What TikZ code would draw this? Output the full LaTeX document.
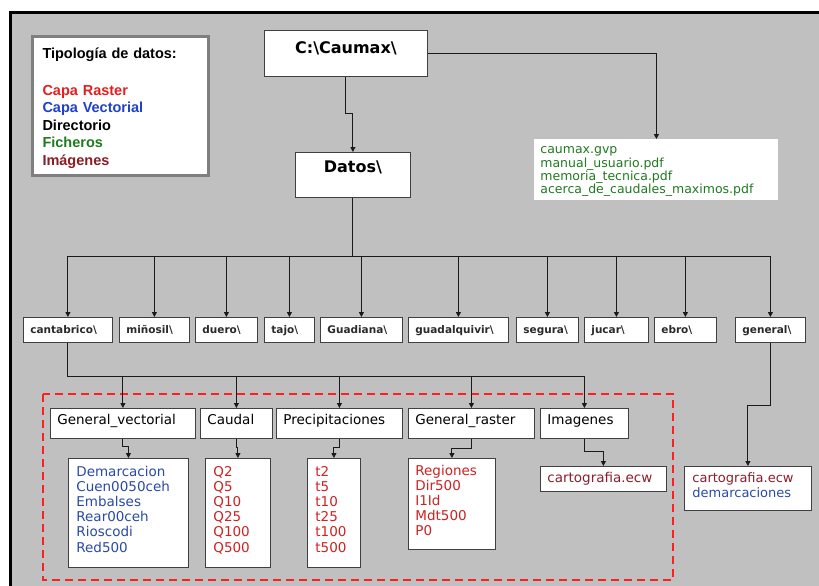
\documentclass[tikz,border=0pt]{standalone}
\usepackage{fontspec}
\setmainfont{DejaVu Sans}
\newfontfamily\legfont{Liberation Sans}
\usetikzlibrary{arrows.meta}
\hyphenpenalty=10000
\exhyphenpenalty=10000
\definecolor{bggray}{HTML}{C0C0C0}
\definecolor{linec}{HTML}{1A1A1A}
\definecolor{boxc}{HTML}{404040}
\definecolor{leggray}{HTML}{7F7F7F}
\definecolor{dirc}{HTML}{2A2A2A}
\definecolor{rasterred}{HTML}{E41E1E}
\definecolor{vecblue}{HTML}{2041C8}
\definecolor{ficgreen}{HTML}{1E7B1E}
\definecolor{imgred}{HTML}{8C1C24}
\definecolor{filegreen}{HTML}{207A20}
\definecolor{datablue}{HTML}{2A4AA8}
\definecolor{datared}{HTML}{CC2222}
\definecolor{cartored}{HTML}{8B1E2E}
\definecolor{dashred}{HTML}{FF1F1F}
\begin{document}
\begin{tikzpicture}[x=1pt,y=-1pt,
  conn/.style={draw=linec,line width=1pt,-{Triangle[length=5pt,width=5pt]}},
  wire/.style={draw=linec,line width=1pt},
  frame/.style={draw=boxc,fill=white,line width=0.8pt,inner ysep=0pt,anchor=north west,align=left},
  dirbox/.style={frame,font=\fontsize{10.5}{12}\selectfont\bfseries,text=dirc,inner xsep=7pt,text height=16.3pt,text depth=8.7pt},
  rowbox/.style={frame,font=\fontsize{13.5}{15.2}\selectfont,inner xsep=7pt,text height=16.5pt,text depth=13.5pt},
  listbox/.style={frame,font=\fontsize{13.5}{15.2}\selectfont,inner xsep=8pt},
  titlebox/.style={frame,font=\fontsize{16}{18}\selectfont\bfseries,inner xsep=0pt,align=center},
  legendbox/.style={draw=leggray,fill=white,line width=3pt,anchor=north west,inner xsep=10.5pt,inner ysep=0pt,align=left,font={\legfont\bfseries\fontsize{14.5}{17.5}\selectfont}},
  dashbox/.style={draw=dashred,line width=2.5pt,dash pattern=on 8pt off 5pt}
]
\useasboundingbox (0,0) rectangle (819,586);
\fill[white] (0,0) rectangle (819,586);
\fill[bggray] (10.5,12.5) rectangle (819,586);
\draw[black,line width=3pt] (10.5,586) -- (10.5,12.5) -- (819,12.5);

% dashed group
\draw[dashbox] (43,394) rectangle (673,580);

% legend
\node[legendbox,text width=155pt,text height=21.5pt,text depth=116.5pt] (legend) at (30.5,35.5)
  {Tipología de datos:\\[19.5pt]\textcolor{rasterred}{Capa Raster}\\\textcolor{vecblue}{Capa Vectorial}\\Directorio\\\textcolor{ficgreen}{Ficheros}\\\textcolor{imgred}{Imágenes}};

% top
\node[titlebox,text width=163pt,text height=23pt,text depth=23pt] (caumax) at (264,30) {C:\textbackslash Caumax\textbackslash};
\node[titlebox,text width=115pt,text height=20pt,text depth=25pt] (datos) at (295,152) {Datos\textbackslash};
\node[frame,draw=none,font=\fontsize{12.5}{13.3}\selectfont,text=filegreen,inner xsep=6pt,text width=232pt,text height=14.5pt,text depth=46.5pt] (files) at (534,139)
  {caumax.gvp\\manual\_usuario.pdf\\memoria\_tecnica.pdf\\acerca\_de\_caudales\_maximos.pdf};

% directories
\node[dirbox,text width=75pt] (cantabrico) at (23,317) {cantabrico\textbackslash};
\node[dirbox,text width=56pt] (minosil) at (119,317) {miñosil\textbackslash};
\node[dirbox,text width=48pt] (duero) at (195,317) {duero\textbackslash};
\node[dirbox,text width=36pt] (tajo) at (264,317) {tajo\textbackslash};
\node[dirbox,text width=68pt] (guadiana) at (320,317) {Guadiana\textbackslash};
\node[dirbox,text width=86pt] (guadalquivir) at (408,317) {guadalquivir\textbackslash};
\node[dirbox,text width=48pt,inner xsep=7pt] (segura) at (516,317) {segura\textbackslash};
\node[dirbox,text width=50pt] (jucar) at (584,317) {jucar\textbackslash};
\node[dirbox,text width=48pt] (ebro) at (654,317) {ebro\textbackslash};
\node[dirbox,text width=56pt] (general) at (735,317) {general\textbackslash};

% second row
\node[rowbox,text width=131pt] (gv) at (50,408) {General\_vectorial};
\node[rowbox,text width=58pt] (caudal) at (200,408) {Caudal};
\node[rowbox,text width=112pt] (precip) at (276,408) {Precipitaciones};
\node[rowbox,text width=112pt] (graster) at (408,408) {General\_raster};
\node[rowbox,text width=74pt] (imagenes) at (540,408) {Imagenes};

% third row
\node[listbox,text=datablue,text width=104pt,text height=17.7pt,text depth=91.3pt] (dem) at (68,458)
  {Demarcacion\\Cuen0050ceh\\Embalses\\Rear00ceh\\Rioscodi\\Red500};
\node[listbox,text=datared,text width=49pt,text height=17.7pt,text depth=91.3pt] (q) at (205,458)
  {Q2\\Q5\\Q10\\Q25\\Q100\\Q500};
\node[listbox,text=datared,text width=37pt,text height=17.7pt,text depth=91.3pt] (tbox) at (307,458)
  {t2\\t5\\t10\\t25\\t100\\t500};
\node[listbox,text=datared,inner xsep=7pt,text width=73pt,text height=17pt,text depth=74pt,font=\fontsize{13.5}{15}\selectfont] (reg) at (408,458)
  {Regiones\\Dir500\\I1Id\\Mdt500\\P0};
\node[listbox,text=cartored,inner xsep=7pt,text width=112pt,text height=15.7pt,text depth=9.3pt] (carto) at (540,466)
  {cartografia.ecw};
\node[listbox,inner xsep=8pt,text width=111pt,text height=15.7pt,text depth=28.3pt,font=\fontsize{13}{15}\selectfont] (gen2) at (684,466)
  {\textcolor{cartored}{cartografia.ecw}\\\textcolor{datablue}{demarcaciones}};

% connectors
\draw[conn] (caumax.south) -- ++(0,37) -| (datos.north);
\draw[conn] (caumax.east) -| (files.north);

\coordinate (bus1) at (0,256);
\draw[wire] (datos.south) -- (datos.south |- bus1);
\draw[wire] (cantabrico.north |- bus1) -- (general.north |- bus1);
\foreach \n in {cantabrico,minosil,duero,tajo,guadiana,guadalquivir,segura,jucar,ebro,general}
  \draw[conn] (\n.north |- bus1) -- (\n.north);

\coordinate (bus2) at (0,376);
\draw[wire] (cantabrico.south) -- (cantabrico.south |- bus2) -- (imagenes.north |- bus2);
\foreach \n in {gv,caudal,precip,graster,imagenes}
  \draw[conn] (\n.north |- bus2) -- (\n.north);

\draw[conn] (gv.south) -- ++(0,8) -| (dem.north);
\draw[conn] (caudal.south) -- ++(0,9) -| (q.north);
\draw[conn] (precip.south) -- ++(0,9) -| (tbox.north);
\draw[conn] (graster.south) -- ++(0,10) -| (reg.north);
\draw[conn] (imagenes.south) -- ++(0,13) -| (carto.north);
\draw[conn] (general.south) -- ++(0,63) -| (gen2.north);
\end{tikzpicture}
\end{document}
